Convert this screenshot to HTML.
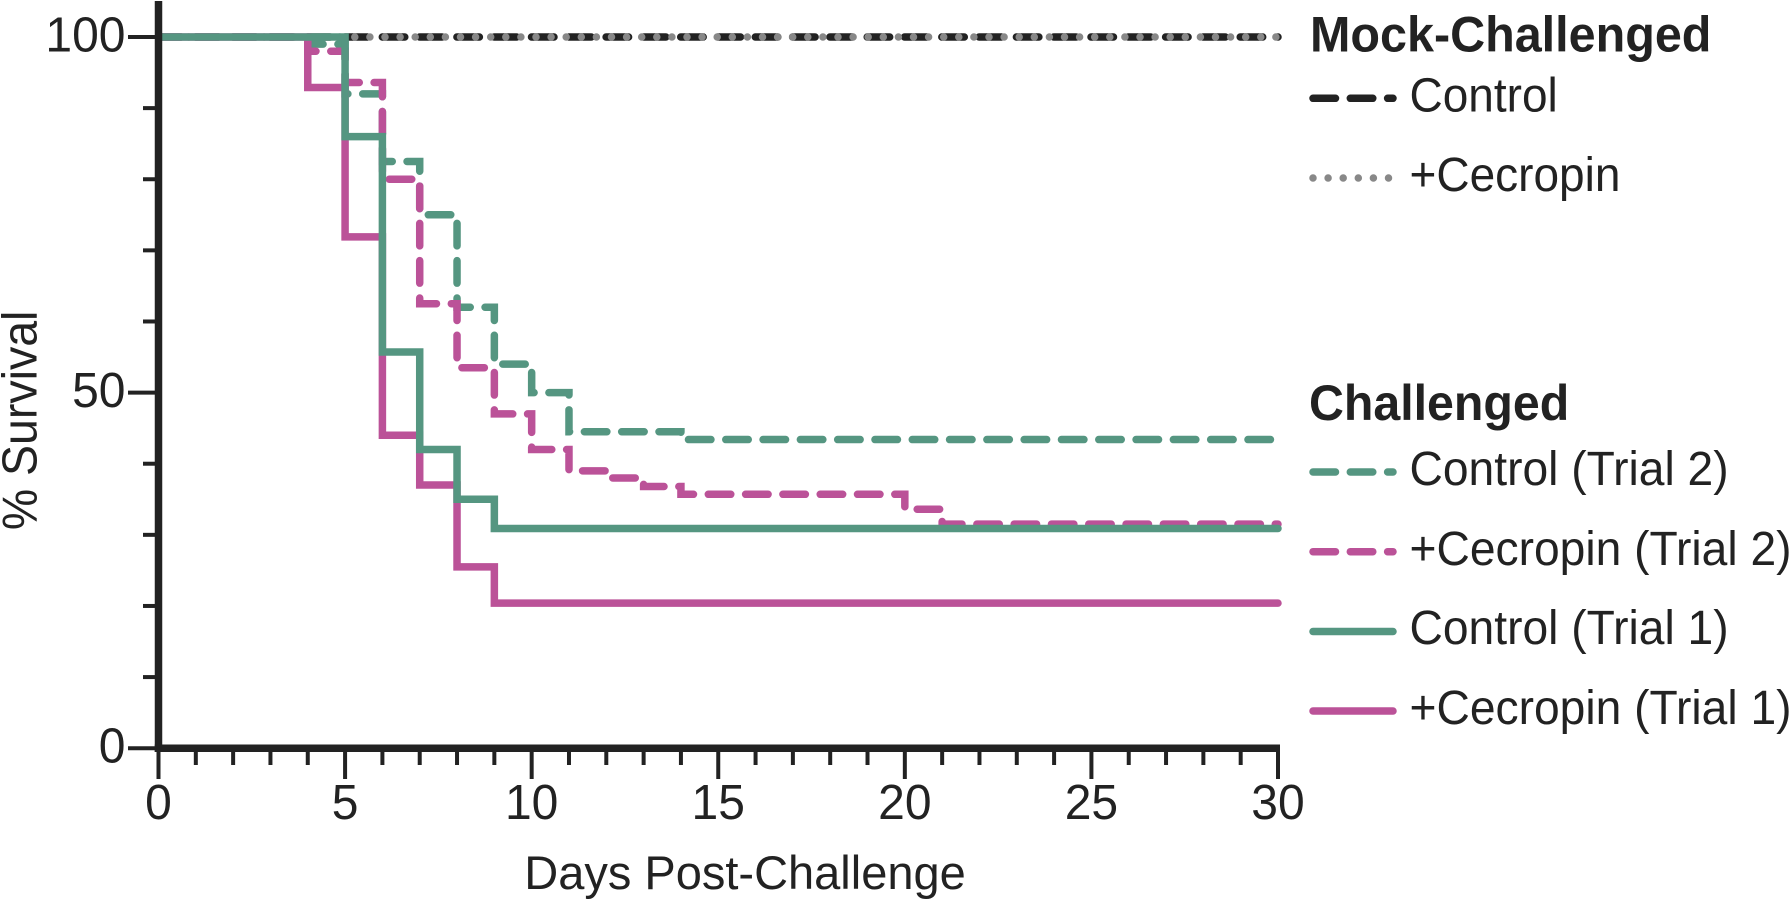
<!DOCTYPE html>
<html lang="en">
<head>
<meta charset="utf-8">
<title>Survival chart</title>
<style>
html,body{margin:0;padding:0;background:#fff;}
svg{display:block;}
text{font-family:"Liberation Sans",Arial,sans-serif;fill:#222;}
</style>
</head>
<body>
<svg id="chart" width="1791" height="901" viewBox="0 0 1791 901" xmlns="http://www.w3.org/2000/svg">
  <rect x="0" y="0" width="1791" height="901" fill="#fff"/>
  <g id="series-layer"></g>
  <g id="axis-layer"></g>

  <text font-size="46.5" text-anchor="middle" transform="translate(36.7 420.4) rotate(-90) scale(1 1.05)">% Survival</text>
  <text x="745" y="889" font-size="47" text-anchor="middle">Days Post-Challenge</text>

  <g>
    <text font-size="48.5" font-weight="bold" transform="matrix(1 0 0 1.03 1310 51.7)">Mock-Challenged</text>
    <line x1="1313" x2="1393" y1="98.3" y2="98.3" stroke="#222" stroke-width="7.5" stroke-linecap="round" stroke-dasharray="22.5 14.8"/>
    <text font-size="46" transform="matrix(1 0 0 1.05 1409.5 111.7)">Control</text>
    <line x1="1313" x2="1390" y1="178" y2="178" stroke="#888" stroke-width="7.5" stroke-linecap="round" stroke-dasharray="0 15.1"/>
    <text font-size="46" transform="matrix(1 0 0 1.05 1409.5 191)">+Cecropin</text>

    <text font-size="48.3" font-weight="bold" transform="matrix(1 0 0 1.03 1309 420)">Challenged</text>
    <line x1="1313" x2="1393" y1="472" y2="472" stroke="#559681" stroke-width="7.5" stroke-linecap="round" stroke-dasharray="22.5 14.8"/>
    <text font-size="46.2" transform="matrix(1 0 0 1.05 1409.5 485)">Control (Trial 2)</text>
    <line x1="1313" x2="1393" y1="551.7" y2="551.7" stroke="#bb5298" stroke-width="7.5" stroke-linecap="round" stroke-dasharray="22.5 14.8"/>
    <text font-size="46.2" transform="matrix(1 0 0 1.05 1409.5 565)">+Cecropin (Trial 2)</text>
    <line x1="1313" x2="1393" y1="631.5" y2="631.5" stroke="#559681" stroke-width="7.5" stroke-linecap="round"/>
    <text font-size="46.2" transform="matrix(1 0 0 1.05 1409.5 644)">Control (Trial 1)</text>
    <line x1="1313" x2="1393" y1="711" y2="711" stroke="#bb5298" stroke-width="7.5" stroke-linecap="round"/>
    <text font-size="46.2" transform="matrix(1 0 0 1.05 1409.5 724)">+Cecropin (Trial 1)</text>
  </g>
</svg>
<script>
var xMajorTicks = [0, 5, 10, 15, 20, 25, 30];
var xMinorTicks = [1, 2, 3, 4, 6, 7, 8, 9, 11, 12, 13, 14, 16, 17, 18, 19, 21, 22, 23, 24, 26, 27, 28, 29];
var yMajorTicks = [0, 50, 100];
var yMinorTicks = [10, 20, 30, 40, 60, 70, 80, 90];

var mockControlDays = [0, 30];
var mockControlSurvival = [100, 100];
var mockCecropinDays = [0, 30];
var mockCecropinSurvival = [100, 100];
var controlTrial2Days = [0, 4, 5, 6, 7, 8, 9, 10, 11, 14, 30];
var controlTrial2Survival = [100, 99, 92, 82.5, 75, 62, 54, 50, 44.5, 43.4, 43.4];
var cecropinTrial2Days = [0, 4, 5, 6, 7, 8, 9, 10, 11, 12, 13, 14, 20, 21, 30];
var cecropinTrial2Survival = [100, 98, 93.6, 80, 62.5, 53.5, 47, 42, 39, 38, 36.8, 35.7, 33.6, 31.5, 31.5];
var cecropinTrial1Days = [0, 4, 5, 6, 7, 8, 9, 30];
var cecropinTrial1Survival = [100, 92.9, 71.9, 44, 37, 25.5, 20.4, 20.4];
var controlTrial1Days = [0, 5, 6, 7, 8, 9, 30];
var controlTrial1Survival = [100, 86, 55.7, 42, 35, 30.9, 30.9];

var SVGNS = 'http://www.w3.org/2000/svg';
var X0 = 158.5, X30 = 1278, Y0 = 748.2, Y100 = 37;
function xScale(d) { return X0 + (X30 - X0) * d / 30; }
function yScale(v) { return Y0 + (Y100 - Y0) * v / 100; }

function stepPath(days, vals) {
  var d = 'M' + xScale(days[0]) + ' ' + yScale(vals[0]);
  for (var i = 1; i < days.length; i++) {
    d += 'H' + xScale(days[i]) + 'V' + yScale(vals[i]);
  }
  return d;
}

var seriesLayer = document.getElementById('series-layer');
var axisLayer = document.getElementById('axis-layer');

function drawSeries(name, days, vals, color, width, dash, cap) {
  var p = document.createElementNS(SVGNS, 'path');
  p.setAttribute('d', stepPath(days, vals));
  p.setAttribute('fill', 'none');
  p.setAttribute('stroke', color);
  p.setAttribute('stroke-width', width);
  p.setAttribute('stroke-linecap', cap);
  p.setAttribute('stroke-linejoin', 'miter');
  if (dash) p.setAttribute('stroke-dasharray', dash);
  
  
  seriesLayer.appendChild(p);
}

function axisLine(name, x1, y1, x2, y2, w) {
  var l = document.createElementNS(SVGNS, 'line');
  l.setAttribute('x1', x1);
  l.setAttribute('y1', y1);
  l.setAttribute('x2', x2);
  l.setAttribute('y2', y2);
  l.setAttribute('stroke', '#222');
  l.setAttribute('stroke-width', w);
  
  
  axisLayer.appendChild(l);
}
function axisLabel(name, x, y, anchor, str) {
  var t = document.createElementNS(SVGNS, 'text');
  t.setAttribute('transform', 'matrix(1 0 0 1.03 ' + x + ' ' + y + ')');
  t.setAttribute('text-anchor', anchor);
  t.setAttribute('font-size', '48');
  t.textContent = str;
  
  
  axisLayer.appendChild(t);
}

axisLine('y-axis-line', X0, 1, X0, Y0 + 3.75, 7.5);
axisLine('x-axis-line', X0 - 3.75, Y0, X30 + 2, Y0, 7.5);

yMajorTicks.forEach(function (v) {
  axisLine('y-tick-major', 128, yScale(v), X0, yScale(v), 4);
  axisLabel('y-tick-label', 125.5, yScale(v) + 14.5, 'end', String(v));
});
yMinorTicks.forEach(function (v) {
  axisLine('y-tick-minor', 143, yScale(v), X0, yScale(v), 4);
});
xMajorTicks.forEach(function (d) {
  axisLine('x-tick-major', xScale(d), Y0, xScale(d), 779, 4);
  axisLabel('x-tick-label', xScale(d), 819, 'middle', String(d));
});
xMinorTicks.forEach(function (d) {
  axisLine('x-tick-minor', xScale(d), Y0, xScale(d), 765, 4);
});

drawSeries('series-mock-control', mockControlDays, mockControlSurvival, '#222', 7.5, '22.5 14.8', 'round');
drawSeries('series-mock-cecropin', mockCecropinDays, mockCecropinSurvival, '#888', 7.5, '0 15.1', 'round');
drawSeries('series-control-trial-2', controlTrial2Days, controlTrial2Survival, '#559681', 7.5, '22.5 14.8', 'round');
drawSeries('series-cecropin-trial-2', cecropinTrial2Days, cecropinTrial2Survival, '#bb5298', 7.5, '22.5 14.8', 'round');
drawSeries('series-cecropin-trial-1', cecropinTrial1Days, cecropinTrial1Survival, '#bb5298', 7.5, null, 'round');
drawSeries('series-control-trial-1', controlTrial1Days, controlTrial1Survival, '#559681', 7.5, null, 'round');
</script>
</body>
</html>
